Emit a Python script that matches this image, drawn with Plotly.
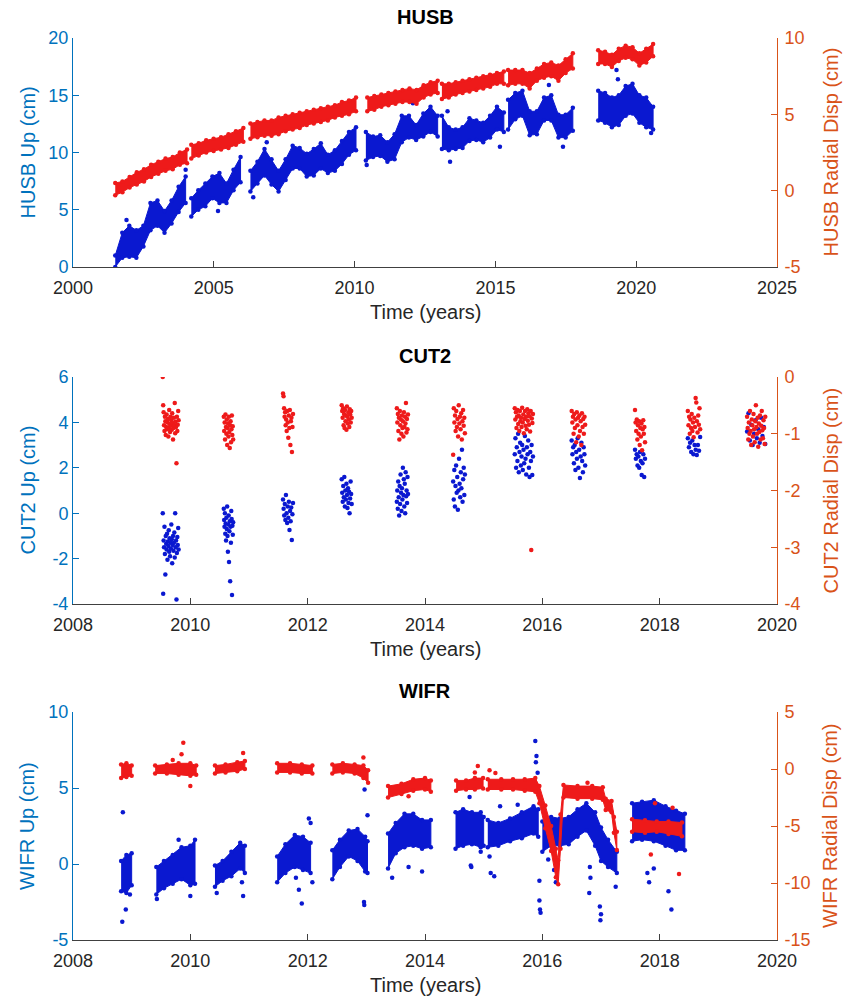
import numpy as np
import plotly.graph_objects as go

# ---------------------------------------------------------------- layout constants
W, H = 850, 1004
ML, MR, MT, MB = 73, 73, 38, 64
PANEL_PX = [(38, 267), (377, 604), (712, 940)]   # top / bottom pixel rows of each panel

BLUE = "#0a18d0"
RED = "#ee1a1a"
LEFT_C = "#0072BD"
RIGHT_C = "#D95319"
AXIS_C = "#404040"
FONT = "Liberation Sans, Arial, Helvetica, sans-serif"
TICK_SIZE = 18
LABEL_SIZE = 20

# ---------------------------------------------------------------- HUSB data
# Up component (cm, left axis): daily solutions summarised per segment as
# evenly spaced (start, end, lower edge, upper edge) of the scatter band.
husb_up_bands = [
    (2001.5, 2004.0,
     [0.0, 0.8, 0.9, 0.8, 1.8, 3.2, 3.6, 3.0, 3.8, 4.8, 5.6],
     [1.0, 3.0, 3.6, 3.2, 3.6, 5.6, 5.8, 4.9, 5.8, 7.0, 7.9]),
    (2004.2, 2005.95,
     [4.4, 5.0, 5.3, 6.0, 5.6, 5.6, 6.7, 7.4],
     [6.0, 6.7, 7.3, 7.9, 8.2, 7.3, 8.5, 9.6]),
    (2006.3, 2010.05,
     [6.6, 7.3, 8.0, 7.2, 6.6, 7.6, 8.6, 8.6, 7.9, 8.0, 8.6, 8.2, 8.4, 9.0, 9.8, 10.2],
     [8.4, 9.2, 10.3, 9.4, 8.4, 9.4, 10.6, 10.4, 9.9, 10.3, 10.8, 9.8, 10.2, 11.0, 11.8, 12.2]),
    (2010.4, 2012.95,
     [9.3, 9.6, 9.7, 9.2, 9.4, 10.9, 11.3, 11.1, 11.4, 11.8, 11.4],
     [11.8, 11.4, 11.5, 10.9, 11.6, 13.2, 13.2, 12.4, 13.4, 14.0, 13.2]),
    (2013.1, 2015.3,
     [10.3, 10.2, 10.3, 10.4, 11.0, 11.1, 10.9, 11.3, 12.0, 11.8],
     [13.2, 12.2, 12.0, 12.2, 13.0, 12.8, 12.6, 13.2, 14.0, 13.5]),
    (2015.45, 2017.75,
     [12.0, 12.9, 13.2, 11.5, 11.6, 12.8, 12.8, 11.3, 11.3, 11.9],
     [14.6, 15.2, 15.4, 13.6, 13.6, 14.8, 15.0, 13.3, 13.3, 13.9]),
    (2018.65, 2020.6,
     [12.8, 12.6, 12.2, 12.4, 13.2, 13.4, 12.6, 12.2, 12.0],
     [15.4, 15.2, 14.8, 15.0, 15.8, 16.0, 15.0, 14.8, 14.0]),
]
husb_up_out_t = [2001.9, 2004.0, 2005.15, 2006.4, 2006.88, 2010.43, 2012.07, 2013.39,
                 2013.3, 2015.16, 2015.9, 2016.9, 2017.4, 2019.3, 2019.35, 2020.53]
husb_up_out_v = [4.1, 8.5, 4.9, 6.1, 10.9, 8.9, 14.3, 9.2,
                 13.6, 10.5, 16.2, 15.9, 10.5, 17.2, 16.4, 11.7]

# Radial displacement (cm, right axis)
husb_rad_bands = [
    (2001.5, 2004.05,
     [-0.3, -0.1, 0.2, 0.4, 0.6, 0.9, 1.1, 1.3, 1.4, 1.7, 1.8],
     [0.5, 0.6, 0.9, 1.2, 1.4, 1.7, 1.9, 2.1, 2.2, 2.5, 2.7]),
    (2004.2, 2006.05,
     [2.1, 2.3, 2.5, 2.6, 2.7, 2.8, 3.0, 3.2],
     [3.0, 3.1, 3.3, 3.4, 3.5, 3.7, 3.9, 4.1]),
    (2006.3, 2010.05,
     [3.4, 3.5, 3.6, 3.6, 3.7, 3.9, 4.0, 4.1, 4.3, 4.4, 4.5, 4.6, 4.8, 4.9, 5.0, 5.2],
     [4.4, 4.5, 4.6, 4.6, 4.8, 4.9, 5.0, 5.1, 5.2, 5.3, 5.4, 5.5, 5.6, 5.8, 5.9, 6.1]),
    (2010.45, 2012.95,
     [5.2, 5.3, 5.5, 5.6, 5.7, 5.8, 5.8, 5.7, 6.1, 6.3, 6.4],
     [6.1, 6.2, 6.3, 6.4, 6.5, 6.6, 6.7, 6.6, 6.9, 7.1, 7.2]),
    (2013.1, 2015.3,
     [6.0, 6.1, 6.3, 6.4, 6.5, 6.6, 6.7, 6.8, 7.0, 7.0],
     [7.0, 7.0, 7.1, 7.2, 7.3, 7.4, 7.5, 7.6, 7.7, 7.8]),
    (2015.45, 2017.75,
     [6.9, 7.0, 7.0, 6.7, 7.2, 7.4, 7.5, 7.2, 7.7, 8.0],
     [7.9, 7.9, 7.9, 7.7, 8.0, 8.3, 8.4, 8.2, 8.6, 9.0]),
    (2018.65, 2020.6,
     [8.3, 8.3, 8.1, 8.5, 8.7, 8.6, 8.2, 8.4, 8.8],
     [9.2, 9.1, 8.9, 9.3, 9.5, 9.4, 9.0, 9.3, 9.6]),
]

# ---------------------------------------------------------------- CUT2 data
# Campaign clusters: (start, end, daily values in observation order)
cut2_up_clusters = [
    (2009.53, 2009.80, [0.0, -3.55, -1.2, -1.5, -0.6, -1.8, -2.7, -1.0, -1.35, -1.6, -0.9, -2.05,
                        -1.25, -1.45, -0.75, -1.7, -1.1, -1.9, -1.3, -1.55, -0.5, -1.15, -2.2, -1.4,
                        -1.0, -1.65, -1.3, -0.85, -1.95, 0.0, -1.5, -1.2, -3.8, -1.75, -1.05, -1.4,
                        -0.65, -1.6]),
    (2010.57, 2010.73, [0.2, -0.3, -0.6, 0.0, -0.9, -0.45, -1.2, -0.2, -0.7, 0.3, -1.0, -1.7, -0.5,
                        -0.1, -2.15, -0.8, -0.35, -3.0, -0.6, -1.3, 0.1, -0.25, -3.6, -0.55, -0.95,
                        -0.4]),
    (2011.58, 2011.75, [0.6, 0.2, -0.1, 0.4, -0.3, 0.8, 0.0, -0.43, 0.3, -0.2, 0.5, -0.74, 0.1,
                        -0.35, 0.25, -1.18, -0.05, 0.45]),
    (2012.58, 2012.75, [1.5, 0.9, 0.5, 1.2, 0.7, 1.6, 0.3, 1.0, 0.6, 1.3, 0.8, 0.23, 1.1, 0.45,
                        0.95, 0.0, 0.65, 1.4, 0.85, 0.4]),
    (2013.52, 2013.71, [0.5, 1.0, 0.2, 1.4, 0.7, -0.1, 1.2, 0.4, 1.7, 0.9, 0.1, 1.1, 0.6, 2.0, 0.8,
                        1.5, 0.3, 1.3, 0.0, 1.8, 0.75, 1.0, 0.45, 1.6, 0.85]),
    (2014.48, 2014.68, [1.4, 0.6, 1.9, 0.3, 1.2, 2.1, 0.9, 1.6, 0.15, 1.0, 2.4, 1.3, 0.7, 1.8, 1.1,
                        2.8, 0.5, 1.5, 2.0, 0.8, 1.7]),
    (2015.53, 2015.84, [2.6, 3.3, 2.0, 2.9, 2.3, 3.5, 1.8, 2.7, 3.1, 2.1, 2.5, 3.0, 1.9, 2.8, 2.2,
                        3.4, 2.4, 1.7, 2.9, 2.6, 3.2, 2.0, 1.6, 2.7, 2.3, 3.0, 1.68, 2.5]),
    (2016.50, 2016.73, [3.2, 2.6, 2.9, 2.2, 3.0, 1.9, 2.7, 2.4, 3.3, 2.0, 2.8, 1.55, 2.5, 3.1, 2.3,
                        1.8, 2.9, 2.6, 2.1]),
    (2017.58, 2017.75, [2.8, 2.4, 2.6, 2.1, 2.5, 2.0, 2.7, 2.3, 1.68, 2.2, 2.6, 1.6, 2.4]),
    (2018.48, 2018.69, [3.3, 2.9, 3.1, 2.7, 3.2, 2.6, 3.0, 2.8, 2.56, 3.0, 2.75, 3.36]),
    (2019.49, 2019.80, [3.6, 4.4, 3.2, 3.9, 3.0, 3.5, 4.1, 3.3, 3.7, 3.1, 4.2, 3.4, 3.8, 3.05]),
]
cut2_rad_clusters = [
    (2009.53, 2009.80, [0.0, -0.5, -0.62, -0.85, -0.95, -0.7, -0.78, -1.02, -0.88, -0.66, -0.92,
                        -0.8, -0.74, -1.05, -0.9, -0.58, -0.83, -0.97, -0.7, -0.86, -0.76, -0.93,
                        -0.64, -0.81, -1.1, -0.9, -0.72, -0.85, -0.46, -0.99, -0.79, -0.88, -1.52,
                        -0.7, -0.95, -0.84, -0.6, -0.76]),
    (2010.57, 2010.73, [-0.7, -0.95, -0.8, -1.1, -0.66, -0.88, -1.0, -0.75, -1.2, -0.9, -0.82,
                        -1.05, -0.7, -0.97, -1.25, -0.85, -0.78, -1.15, -0.92, -0.68, -1.02, -0.87,
                        -1.1]),
    (2011.58, 2011.75, [-0.29, -0.34, -0.55, -0.7, -0.62, -0.85, -0.75, -0.95, -0.6, -0.8, -1.07,
                        -0.68, -0.9, -0.58, -1.2, -0.78, -0.72, -1.32, -0.88, -0.65]),
    (2012.58, 2012.75, [-0.5, -0.6, -0.72, -0.55, -0.85, -0.65, -0.9, -0.58, -0.78, -0.68, -0.93,
                        -0.52, -0.7, -0.82, -0.62, -0.75, -0.88, -0.57, -0.66, -0.8, -0.6, -0.72]),
    (2013.52, 2013.71, [-0.55, -0.8, -0.65, -0.95, -0.72, -1.1, -0.6, -0.85, -0.75, -1.0, -0.68,
                        -0.9, -0.78, -1.05, -0.62, -0.88, -0.7, -0.82, -0.46, -0.98, -0.74, -0.92,
                        -0.66]),
    (2014.48, 2014.68, [-1.37, -0.55, -0.8, -0.68, -0.95, -0.6, -0.88, -0.74, -1.05, -0.5, -0.82,
                        -0.7, -0.92, -0.64, -1.1, -0.78, -0.58, -0.86, -0.72, -0.99]),
    (2015.53, 2015.84, [-0.55, -0.75, -0.62, -0.9, -0.7, -0.58, -0.83, -0.68, -0.95, -0.6, -0.78,
                        -0.72, -0.88, -0.54, -0.8, -0.66, -0.99, -0.74, -0.6, -0.86, -0.7, -0.92,
                        -0.57, -0.77, -0.64, -0.84, -0.69, -0.96, -0.6, -3.05, -0.73, -0.81,
                        -0.65]),
    (2016.50, 2016.73, [-0.6, -0.8, -0.7, -1.0, -0.65, -0.9, -0.75, -1.15, -0.62, -0.85, -0.72,
                        -1.05, -0.68, -0.95, -0.78, -1.2, -0.64, -0.88, -0.74, -1.0, -0.7, -0.84]),
    (2017.58, 2017.75, [-0.58, -0.8, -0.95, -0.75, -1.1, -0.85, -1.0, -0.78, -1.2, -0.9, -1.05,
                        -0.82, -1.29, -0.92, -0.76, -1.0, -0.88, -1.15]),
    (2018.48, 2018.69, [-0.6, -0.85, -0.7, -1.0, -0.75, -0.9, -0.65, -0.95, -0.8, -1.06, -0.72,
                        -0.88, -0.37, -0.45, -0.78, -0.98, -0.68, -0.84, -0.55, -0.92]),
    (2019.49, 2019.80, [-0.7, -0.9, -1.1, -0.8, -1.0, -0.6, -0.95, -1.2, -0.75, -0.85, -1.05,
                        -0.65, -0.92, -1.15, -0.78, -0.5, -0.88, -1.0, -0.72, -1.23, -0.82, -0.97,
                        -0.68, -1.1, -0.86, -0.6, -0.94, -1.08, -0.76, -0.9, -1.18, -0.7]),
]

# ---------------------------------------------------------------- WIFR data
# Bands given as (times, lower edge, upper edge)
wifr_up_bands = [
    ([2008.82, 2008.91, 2009.0], [-1.8, -1.9, -1.4], [0.2, 0.6, 0.7]),
    ([2009.42, 2009.55, 2009.7, 2009.85, 2010.0, 2010.08],
     [-2.0, -1.6, -1.3, -1.0, -1.4, -1.3], [-0.2, 0.2, 0.6, 1.1, 1.2, 1.6]),
    ([2010.42, 2010.55, 2010.7, 2010.85, 2010.93],
     [-1.5, -1.1, -0.8, -0.3, -0.6], [-0.1, 0.2, 0.8, 1.4, 1.2]),
    ([2011.48, 2011.62, 2011.78, 2011.92, 2012.05],
     [-1.2, -0.6, -0.2, -0.4, -0.6], [0.5, 1.3, 1.9, 1.8, 1.4]),
    ([2012.42, 2012.55, 2012.7, 2012.85, 2012.98, 2013.02],
     [-1.0, -0.2, 0.5, 0.2, -0.5, -0.6], [0.9, 1.6, 2.2, 2.3, 1.8, 1.5]),
    ([2013.37, 2013.5, 2013.65, 2013.8, 2013.95, 2014.1],
     [-0.3, 0.7, 1.1, 1.2, 1.0, 1.1], [2.0, 2.7, 3.3, 3.3, 2.9, 2.9]),
    ([2014.52, 2014.65, 2014.8, 2014.95, 2015.0],
     [1.0, 1.2, 1.3, 1.1, 1.2], [3.4, 3.6, 3.4, 3.4, 3.1]),
    ([2015.07, 2015.25, 2015.45, 2015.65, 2015.85, 2015.93],
     [1.1, 1.2, 1.5, 1.7, 2.0, 1.8], [2.9, 2.7, 3.0, 3.4, 3.8, 3.6]),
    ([2016.0, 2016.15, 2016.3, 2016.45, 2016.6, 2016.75, 2016.9, 2017.0, 2017.12, 2017.27],
     [0.8, 1.2, 1.2, 1.3, 1.8, 2.2, 1.2, 0.2, -0.2, -0.6],
     [2.8, 3.1, 3.0, 3.1, 3.6, 4.0, 3.4, 2.4, 1.6, 0.8]),
    ([2017.53, 2017.7, 2017.9, 2018.1, 2018.28, 2018.43],
     [1.5, 1.6, 1.5, 1.2, 0.9, 0.9], [4.0, 4.1, 4.2, 3.8, 3.5, 3.3]),
]
wifr_up_out_t = [2008.85, 2008.9, 2008.84, 2008.97, 2009.43, 2010.0, 2009.8, 2010.45, 2010.9,
                 2010.88, 2012.02, 2012.05, 2011.9, 2011.8, 2011.85, 2012.08, 2012.97, 2013.02,
                 2012.96, 2012.965, 2013.44, 2013.72, 2013.95, 2014.76, 2014.78, 2014.79,
                 2014.95, 2015.12, 2015.18, 2015.1, 2015.28, 2015.58, 2015.88, 2015.9, 2015.89,
                 2015.92, 2015.95, 2015.95, 2015.96, 2015.97, 2016.1, 2016.2, 2016.23, 2016.81,
                 2016.82, 2016.8, 2016.98, 2016.99, 2017.0, 2017.25, 2017.79, 2017.82, 2017.9,
                 2018.15, 2018.2]
wifr_up_out_v = [3.4, -3.0, -3.8, -2.0, -2.3, -2.1, 1.6, -1.9, -2.1,
                 -1.2, 3.0, 2.7, -2.6, -0.9, -1.7, -1.2, 4.9, 3.2,
                 -2.5, -2.7, -0.9, -0.2, -0.5, 4.4, -0.1, -0.2,
                 0.8, -0.6, -0.8, 0.5, 3.8, 3.9, 8.1, 7.1, 6.7,
                 6.0, -1.1, -2.4, -3.0, -3.2, 0.3, -0.4, -1.2, -0.2,
                 -0.9, -1.9, -2.8, -3.7, -3.3, -1.5, -0.6, -1.2, -0.3,
                 -1.8, -3.0]

wifr_rad_bands = [
    ([2008.82, 2008.91, 2009.0], [-0.8, -0.7, -0.6], [0.4, 0.5, 0.3]),
    ([2009.4, 2009.6, 2009.8, 2010.0, 2010.1], [-0.4, -0.4, -0.5, -0.6, -0.5],
     [0.3, 0.4, 0.5, 0.5, 0.3]),
    ([2010.42, 2010.6, 2010.8, 2010.93], [-0.4, -0.3, -0.2, 0.0], [0.3, 0.4, 0.6, 0.7]),
    ([2011.48, 2011.7, 2011.9, 2012.08], [-0.3, -0.3, -0.4, -0.4], [0.5, 0.5, 0.4, 0.3]),
    ([2012.42, 2012.6, 2012.8, 2012.95, 2013.03], [-0.4, -0.3, -0.4, -0.8, -1.2],
     [0.4, 0.5, 0.4, 0.3, -0.1]),
    ([2013.37, 2013.6, 2013.8, 2014.0, 2014.1], [-2.5, -2.2, -1.9, -1.8, -2.0],
     [-1.5, -1.3, -0.9, -0.8, -1.0]),
    ([2014.53, 2014.7, 2014.85, 2014.99], [-1.9, -1.8, -1.8, -1.7], [-1.0, -1.0, -0.8, -0.8]),
    ([2015.07, 2015.3, 2015.5, 2015.7, 2015.88, 2015.95, 2016.05, 2016.15, 2016.23, 2016.27,
      2016.31, 2016.36, 2016.6, 2016.85, 2017.03, 2017.08, 2017.18, 2017.22, 2017.27],
     [-1.8, -1.8, -1.8, -1.9, -2.0, -3.0, -5.2, -7.2, -9.5, -10.1,
      -7.0, -2.5, -2.6, -2.6, -2.7, -3.6, -3.8, -5.6, -7.1],
     [-0.9, -0.9, -0.9, -0.9, -0.8, -1.5, -3.2, -5.0, -7.0, -8.0,
      -4.0, -1.4, -1.5, -1.5, -1.6, -2.6, -2.8, -4.2, -5.5]),
    ([2017.53, 2017.75, 2017.95, 2018.15, 2018.38], [-5.5, -5.6, -5.5, -5.7, -5.9],
     [-4.4, -4.5, -4.6, -4.6, -4.7]),
]
wifr_rad_out_t = [2009.88, 2009.85, 2010.0, 2009.7, 2010.9, 2012.95, 2013.72, 2014.9, 2014.85,
                  2015.1, 2015.2, 2016.77, 2017.85, 2018.33, 2017.92, 2018.22]
wifr_rad_out_v = [2.3, 1.3, -1.5, 0.8, 1.4, 1.0, -2.4, 0.26, -0.3,
                  -0.1, -0.35, -1.2, -7.5, -9.2, -3.0, -3.4]

# ---------------------------------------------------------------- axes setup
x_ticks = [list(range(2000, 2026, 5)), list(range(2008, 2021, 2)), list(range(2008, 2021, 2))]
x_ranges = [[2000, 2025], [2008, 2020], [2008, 2020]]
left_ticks = [[0, 5, 10, 15, 20], [-4, -2, 0, 2, 4, 6], [-5, 0, 5, 10]]
right_ticks = [[-5, 0, 5, 10], [-4, -3, -2, -1, 0], [-15, -10, -5, 0, 5]]
stations = ["HUSB", "CUT2", "WIFR"]


def tick_text(vals):
    return [str(v) for v in vals]


def py(pix):
    """pixel row -> paper y"""
    return 1 - (pix - MT) / (H - MT - MB)


def px(pix):
    """pixel column -> paper x"""
    return (pix - ML) / (W - ML - MR)


fig = go.Figure()


def add_band(t, lo, hi, color, xa, ya):
    t = list(t)
    fig.add_trace(go.Scatter(
        x=t + t[::-1], y=list(hi) + list(lo)[::-1], mode="lines", fill="toself",
        fillcolor=color, line=dict(color=color, width=1), xaxis=xa, yaxis=ya,
        hoverinfo="skip", showlegend=False))
    fig.add_trace(go.Scatter(
        x=t + t, y=list(lo) + list(hi), mode="markers",
        marker=dict(size=4.5, color=color), xaxis=xa, yaxis=ya,
        hoverinfo="skip", showlegend=False))


def add_dots(t, v, color, xa, ya, size=4.5):
    fig.add_trace(go.Scatter(
        x=list(t), y=list(v), mode="markers", marker=dict(size=size, color=color),
        xaxis=xa, yaxis=ya, hoverinfo="skip", showlegend=False))


# HUSB
for t0, t1, lo, hi in husb_up_bands:
    add_band(np.linspace(t0, t1, len(lo)), lo, hi, BLUE, "x", "y")
add_dots(husb_up_out_t, husb_up_out_v, BLUE, "x", "y")
for t0, t1, lo, hi in husb_rad_bands:
    add_band(np.linspace(t0, t1, len(lo)), lo, hi, RED, "x", "y2")

# CUT2
for t0, t1, vals in cut2_up_clusters:
    add_dots(np.linspace(t0, t1, len(vals)), vals, BLUE, "x2", "y3")
for t0, t1, vals in cut2_rad_clusters:
    add_dots(np.linspace(t0, t1, len(vals)), vals, RED, "x2", "y4")

# WIFR
for t, lo, hi in wifr_up_bands:
    add_band(t, lo, hi, BLUE, "x3", "y5")
add_dots(wifr_up_out_t, wifr_up_out_v, BLUE, "x3", "y5")
for t, lo, hi in wifr_rad_bands:
    add_band(t, lo, hi, RED, "x3", "y6")
add_dots(wifr_rad_out_t, wifr_rad_out_v, RED, "x3", "y6")

layout = dict(
    width=W, height=H, margin=dict(l=ML, r=MR, t=MT, b=MB),
    paper_bgcolor="white", plot_bgcolor="white",
    font=dict(family=FONT, size=TICK_SIZE, color=AXIS_C),
    showlegend=False,
)

annotations = []
for i in range(3):
    top, bot = PANEL_PX[i]
    xname = "xaxis" if i == 0 else f"xaxis{i + 1}"
    yl = 2 * i + 1
    yr = 2 * i + 2
    ylname = "yaxis" if yl == 1 else f"yaxis{yl}"
    yrname = f"yaxis{yr}"
    xref = "x" if i == 0 else f"x{i + 1}"
    ylref = "y" if yl == 1 else f"y{yl}"
    layout[xname] = dict(
        domain=[0, 1], anchor=ylref, range=x_ranges[i],
        tickvals=x_ticks[i], ticktext=tick_text(x_ticks[i]),
        ticks="inside", ticklen=6, tickcolor=AXIS_C, showline=True, linecolor=AXIS_C,
        linewidth=1, showgrid=False, zeroline=False, ticklabelstandoff=4,
        tickfont=dict(size=TICK_SIZE, color="#262626", family=FONT))
    layout[ylname] = dict(
        domain=[py(bot), py(top)], anchor=xref, range=[left_ticks[i][0], left_ticks[i][-1]],
        tickvals=left_ticks[i], ticktext=tick_text(left_ticks[i]),
        ticks="inside", ticklen=6, tickcolor=LEFT_C, showline=True, linecolor=LEFT_C,
        linewidth=1, showgrid=False, zeroline=False,
        tickfont=dict(size=TICK_SIZE, color=LEFT_C, family=FONT))
    layout[yrname] = dict(
        overlaying=ylref, side="right", anchor=xref,
        range=[right_ticks[i][0], right_ticks[i][-1]],
        tickvals=right_ticks[i], ticktext=tick_text(right_ticks[i]),
        ticks="inside", ticklen=6, tickcolor=RIGHT_C, showline=True, linecolor=RIGHT_C,
        linewidth=1, showgrid=False, zeroline=False, ticklabelstandoff=3,
        tickfont=dict(size=TICK_SIZE, color=RIGHT_C, family=FONT))

    mid = (top + bot) / 2
    # panel title
    annotations.append(dict(text=f"<b>{stations[i]}</b>", x=px(425), y=py(top - 21),
                            xref="paper", yref="paper", showarrow=False,
                            font=dict(size=LABEL_SIZE, color="black", family=FONT),
                            xanchor="center", yanchor="middle"))
    # x-axis label
    annotations.append(dict(text="Time (years)", x=px(425), y=py(bot + 45),
                            xref="paper", yref="paper", showarrow=False,
                            font=dict(size=LABEL_SIZE, color="#262626", family=FONT),
                            xanchor="center", yanchor="middle"))
    # left y label
    annotations.append(dict(text=f"{stations[i]} Up (cm)", x=px(27), y=py(mid),
                            xref="paper", yref="paper", showarrow=False, textangle=-90,
                            font=dict(size=LABEL_SIZE, color=LEFT_C, family=FONT),
                            xanchor="center", yanchor="middle"))
    # right y label
    annotations.append(dict(text=f"{stations[i]} Radial Disp (cm)", x=px(830), y=py(mid),
                            xref="paper", yref="paper", showarrow=False, textangle=-90,
                            font=dict(size=LABEL_SIZE, color=RIGHT_C, family=FONT),
                            xanchor="center", yanchor="middle"))

layout["annotations"] = annotations
fig.update_layout(**layout)
fig.write_html("out.html")
